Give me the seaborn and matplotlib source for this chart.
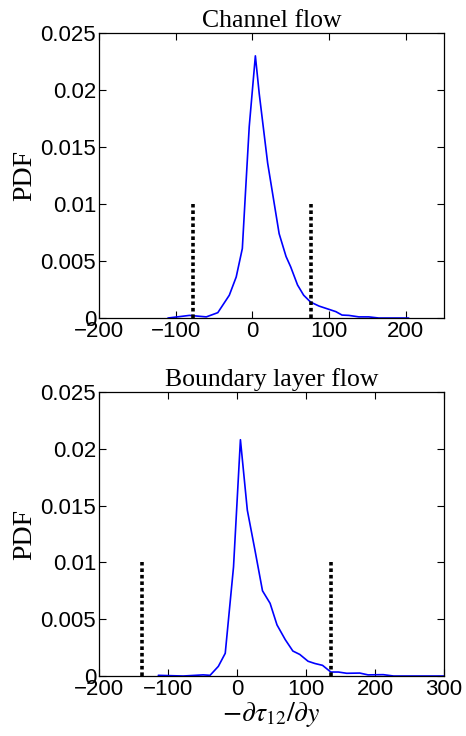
import seaborn as sns
import matplotlib.pyplot as plt
import matplotlib.ticker as mticker
import pandas as pd
import numpy as np

# PDF curves
chan_x = [-110, -82, -60, -45, -30, -21, -13, -9, -4, 4, 9, 20, 35, 44, 50,
          59, 67, 76, 87, 109, 117, 126, 139, 152, 165, 204]
chan_pdf = [0.0, 0.00023, 0.0001, 0.00047, 0.002, 0.0036, 0.0061, 0.0109,
            0.0168, 0.0230, 0.0197, 0.0136, 0.0074, 0.0054, 0.0045, 0.0029,
            0.002, 0.0014, 0.00105, 0.00056, 0.00026, 0.00023, 0.0001,
            0.0001, 0.0, 0.0]
bl_x = [-114, -78, -49, -39, -27, -17, -5, 5, 15, 26, 37, 48, 58, 70, 81,
        91, 103, 113, 124, 136, 147, 159, 178, 190, 212, 227, 300]
bl_pdf = [0.00006, 0.0, 0.0001, 0.00006, 0.00085, 0.002, 0.0096, 0.0208,
          0.0146, 0.0111, 0.0075, 0.0064, 0.0045, 0.0032, 0.0022, 0.0019,
          0.0013, 0.0011, 0.00094, 0.00035, 0.00035, 0.00024, 0.00026,
          0.0001, 0.00012, 0.0, 0.0]

# threshold markers
chan_lims = [-78, 77]
bl_lims = [-137, 137]
lim_height = 0.01

titles = ['Channel flow', 'Boundary layer flow']
xlims = [(-200, 250), (-200, 300)]
xticks = [[-200, -100, 0, 100, 200], [-200, -100, 0, 100, 200, 300]]
yticks = [0, 0.005, 0.01, 0.015, 0.02, 0.025]

sns.set_theme(style='ticks')
plt.rcParams['font.family'] = ['Liberation Sans', 'DejaVu Sans']
plt.rcParams['mathtext.fontset'] = 'stix'
plt.rcParams['xtick.direction'] = 'in'
plt.rcParams['ytick.direction'] = 'in'
plt.rcParams['text.color'] = 'black'
plt.rcParams['axes.labelcolor'] = 'black'

fig = plt.figure(figsize=(4.66, 7.36), dpi=100)
ax1 = fig.add_axes([0.2124, 0.5679, 0.7403, 0.3872])
ax2 = fig.add_axes([0.2124, 0.0815, 0.7403, 0.3859])

datasets = [(chan_x, chan_pdf, chan_lims), (bl_x, bl_pdf, bl_lims)]
for ax, (xs, ys, lims), title, xl, xt in zip([ax1, ax2], datasets, titles, xlims, xticks):
    df = pd.DataFrame({'x': xs, 'pdf': ys})
    sns.lineplot(data=df, x='x', y='pdf', ax=ax, color='#0000ff', linewidth=1.2)
    ax.vlines(lims, 0, lim_height, colors='black', linestyles=(0, (1, 0.8)),
              linewidth=2.6)
    ax.set_xlim(*xl)
    ax.set_ylim(0, 0.025)
    ax.set_xticks(xt)
    ax.set_yticks(yticks)
    ax.yaxis.set_major_formatter(mticker.FuncFormatter(lambda v, p: '%g' % v))
    ax.tick_params(axis='both', labelsize=16, length=5, width=0.8,
                   top=True, right=True, pad=2, colors='black')
    for s in ax.spines.values():
        s.set_linewidth(0.9)
        s.set_color('black')
    ax.set_title(title, fontsize=18.5, family='Liberation Serif', pad=4,
                 color='black')
    ax.set_ylabel('PDF', fontsize=20, family='Liberation Serif', labelpad=2)
    ax.set_xlabel('')

ax2.set_xlabel(r'$-\partial\tau_{12}/\partial y$', fontsize=20, labelpad=0)

fig.savefig('out.png', dpi=100)
plt.close()
